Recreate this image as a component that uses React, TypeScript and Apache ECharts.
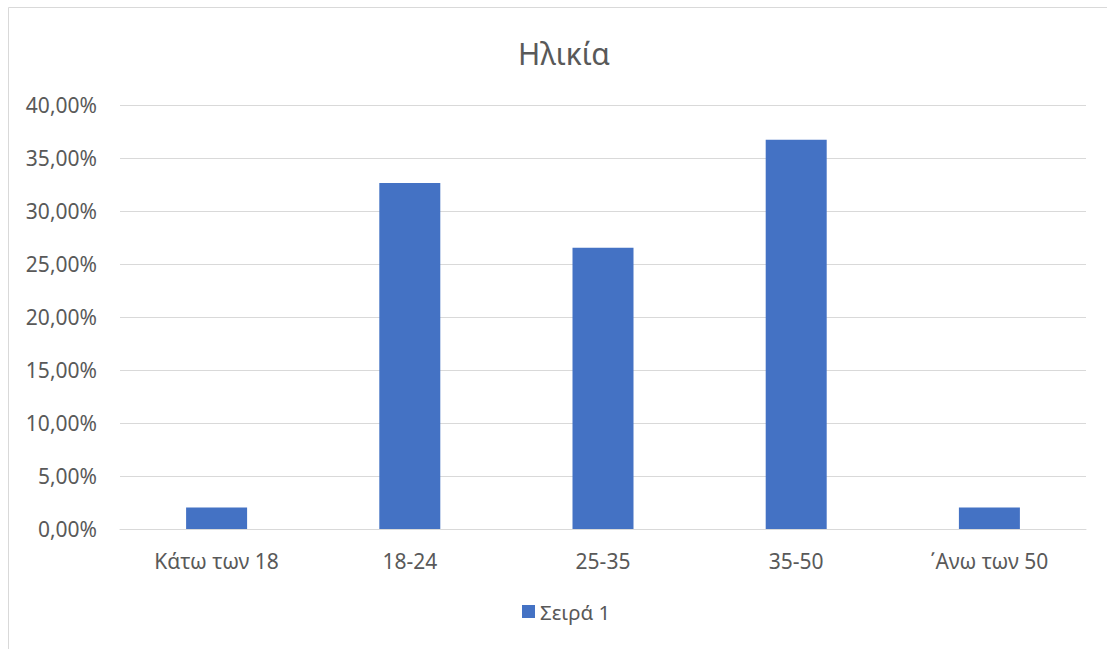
import React, { useEffect, useRef } from "react";
import * as echarts from "echarts";

const categories = ["Κάτω των 18", "18-24", "25-35", "35-50", "΄Ανω των 50"];
const values = [2.04, 32.65, 26.53, 36.73, 2.04];
const seriesName = "Σειρά 1";
const titleText = "Ηλικία";

export default function App() {
  const ref = useRef<HTMLDivElement>(null);
  useEffect(() => {
    const chart = echarts.init(ref.current!, null, { renderer: "svg" });
    const font = "'Noto Sans', 'Open Sans', 'DejaVu Sans', sans-serif";
    chart.setOption({
      animation: false,
      backgroundColor: "#ffffff",
      textStyle: { fontFamily: font },
      graphic: [
        {
          type: "rect",
          shape: { x: 8.5, y: 7.5, width: 1200, height: 800 },
          style: { fill: "none", stroke: "#d9d9d9", lineWidth: 1 },
          silent: true,
        },
      ],
      title: {
        text: titleText,
        left: 513,
        top: 33,
        textStyle: { fontFamily: font, fontSize: 30, fontWeight: "normal", color: "#595959" },
      },
      legend: {
        bottom: 22,
        left: 517,
        itemWidth: 13,
        itemHeight: 13,
        itemGap: 10,
        icon: "rect",
        textStyle: { fontFamily: font, fontSize: 20.5, color: "#595959" },
        data: [seriesName],
      },
      grid: { left: 120, right: 21, top: 105, bottom: 120, containLabel: false },
      xAxis: {
        type: "category",
        data: categories,
        axisLine: { lineStyle: { color: "#d9d9d9", width: 1 } },
        axisTick: { show: false },
        axisLabel: { color: "#595959", fontSize: 21, fontFamily: font, margin: 21 },
      },
      yAxis: {
        type: "value",
        min: 0,
        max: 40,
        interval: 5,
        axisLine: { show: false },
        axisTick: { show: false },
        splitLine: { lineStyle: { color: "#d9d9d9", width: 1 } },
        axisLabel: {
          color: "#595959",
          fontSize: 21,
          fontFamily: font,
          margin: 23,
          formatter: (v: number) => v.toFixed(2).replace(".", ",") + "%",
        },
      },
      series: [
        {
          name: seriesName,
          type: "bar",
          data: values,
          barWidth: 61,
          itemStyle: { color: "#4472c4" },
        },
      ],
    });
    return () => chart.dispose();
  }, []);
  return (
    <div
      ref={ref}
      style={{ position: "fixed", left: 0, top: 0, width: 1107, height: 649 }}
    />
  );
}
